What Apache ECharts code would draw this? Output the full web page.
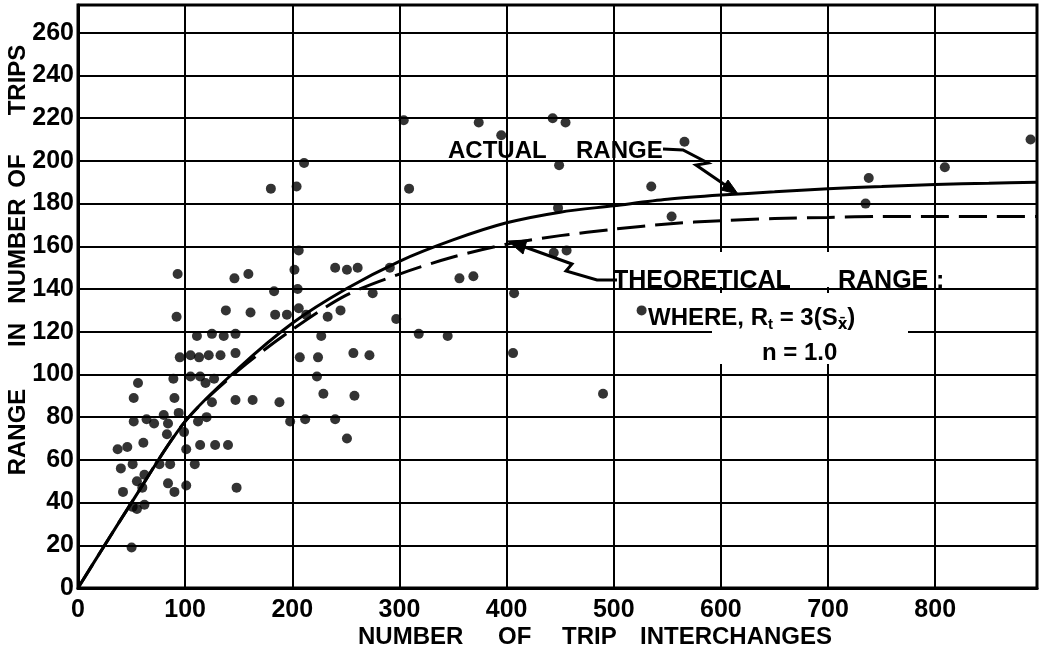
<!DOCTYPE html>
<html>
<head>
<meta charset="utf-8">
<title>Range in number of trips vs number of trip interchanges</title>
<script src="https://cdn.jsdelivr.net/npm/echarts@6/dist/echarts.min.js"></script>
<style>
html, body { margin: 0; padding: 0; background: #fff; }
#chart { width: 1040px; height: 652px; }
</style>
</head>
<body>
<div id="chart"></div>
<script>
// observed ranges: [trip interchanges, range in number of trips]
const observed = [
  [37, 65], [46, 66], [40, 56], [42, 45], [51, 58], [52, 78], [52, 89], [56, 96],
  [55, 50], [62, 53], [60, 47], [51, 38], [55, 37], [62, 39], [50, 19], [61, 68],
  [64, 79], [71, 77], [80, 81], [84, 77], [83, 72], [76, 58], [86, 58], [84, 49],
  [90, 45], [94, 82], [99, 73], [101, 65], [101, 48], [109, 58], [112, 78], [120, 80],
  [114, 67], [128, 67], [140, 67], [148, 47], [90, 89], [125, 87], [147, 88], [163, 88],
  [188, 87], [89, 98], [105, 99], [114, 99], [119, 96], [127, 98], [95, 108], [105, 109],
  [113, 108], [122, 109], [133, 109], [147, 110], [111, 118], [125, 119], [136, 118], [147, 119],
  [92, 127], [93, 147], [146, 145], [159, 147], [138, 130], [161, 129], [184, 128], [195, 128],
  [206, 131], [213, 128], [233, 127], [245, 130], [183, 139], [205, 140], [202, 149], [206, 158],
  [180, 187], [204, 188], [211, 199], [240, 150], [251, 149], [261, 150], [275, 138], [291, 150],
  [227, 118], [207, 108], [224, 108], [257, 110], [272, 109], [223, 99], [229, 91], [258, 90],
  [198, 78], [212, 79], [240, 79], [251, 70], [297, 126], [318, 119], [345, 118], [406, 110],
  [490, 91], [304, 219], [374, 218], [395, 212], [443, 220], [455, 218], [449, 198], [309, 187],
  [535, 188], [566, 209], [448, 178], [554, 174], [444, 157], [456, 158], [356, 145], [369, 146],
  [407, 138], [526, 130], [738, 192], [735, 180], [809, 197], [889, 210]
];

// actual range curve
const actualX = [0, 50, 100, 150, 200, 250, 300, 350, 400, 450, 500, 550, 600, 650, 700, 750, 800, 850, 895];
const actualY = [0, 40, 78, 103, 124, 140, 153, 163, 171, 176, 179, 182, 184, 185.5, 187, 188, 189, 189.5, 190];

// theoretical range curve (R = 3 * standard error, n = 1.0)
const theoryX = [0, 50, 100, 150, 200, 250, 300, 350, 400, 450, 500, 550, 600, 650, 700, 750, 800, 850, 895];
const theoryY = [0, 40, 78, 102, 121, 137, 147, 155, 161, 165, 168, 170.5, 172, 173, 173.5, 174, 174, 174, 174];

const xTicks = [0, 100, 200, 300, 400, 500, 600, 700, 800];
const yTicks = [0, 20, 40, 60, 80, 100, 120, 140, 160, 180, 200, 220, 240, 260];

const zip = (xs, ys) => xs.map((x, i) => [x, ys[i]]);
const FONT = '"Liberation Sans", Arial, sans-serif';

const label = (text, x, y, size) => ({
  type: 'text', x: x, y: y, z: 5,
  style: {
    text: text, fill: '#000', font: 'bold ' + size + 'px ' + FONT,
    align: 'left', verticalAlign: 'middle', textAlign: 'left', textVerticalAlign: 'middle'
  }
});

const vLabel = (text, x, y) => ({
  type: 'text', x: x, y: y, z: 5, rotation: Math.PI / 2,
  style: {
    text: text, fill: '#000', font: 'bold 24px ' + FONT,
    align: 'center', verticalAlign: 'middle', textAlign: 'center', textVerticalAlign: 'middle'
  }
});

const wire = (points) => ({
  type: 'polyline', z: 5,
  shape: { points: points },
  style: { stroke: '#000', lineWidth: 3, fill: null, lineJoin: 'miter' }
});

const head = (points) => ({
  type: 'polygon', z: 5,
  shape: { points: points },
  style: { fill: '#000', stroke: '#000', lineWidth: 1 }
});

const chart = echarts.init(document.getElementById('chart'));

chart.setOption({
  animation: false,
  backgroundColor: '#fff',
  grid: {
    left: 78, right: 3, top: 5, bottom: 64,
    show: true, borderColor: '#000', borderWidth: 3, backgroundColor: '#fff'
  },
  xAxis: {
    type: 'value', min: 0, max: 895, interval: 100,
    axisLine: { show: true, lineStyle: { color: '#000', width: 3 } },
    axisTick: { show: false },
    splitLine: { show: true, lineStyle: { color: '#000', width: 2 } },
    axisLabel: {
      color: '#000', fontFamily: FONT, fontWeight: 'bold', fontSize: 25, margin: 10,
      showMaxLabel: false,
      formatter: v => xTicks.includes(v) ? String(v) : ''
    }
  },
  yAxis: {
    type: 'value', min: 0, max: 273, interval: 20,
    axisLine: { show: true, lineStyle: { color: '#000', width: 3 } },
    axisTick: { show: false },
    splitLine: { show: true, lineStyle: { color: '#000', width: 2 } },
    axisLabel: {
      color: '#000', fontFamily: FONT, fontWeight: 'bold', fontSize: 25, margin: 4,
      showMaxLabel: false,
      formatter: v => yTicks.includes(v) ? String(v) : ''
    }
  },
  series: [
    {
      name: 'Observed',
      type: 'scatter',
      data: observed,
      symbolSize: 10,
      itemStyle: { color: '#000' },
      z: 3
    },
    {
      name: 'Actual range',
      type: 'line',
      data: zip(actualX, actualY),
      smooth: 0.3,
      showSymbol: false,
      lineStyle: { color: '#000', width: 3 },
      z: 4
    },
    {
      name: 'Theoretical range',
      type: 'line',
      data: zip(theoryX, theoryY),
      smooth: 0.3,
      showSymbol: false,
      lineStyle: { color: '#000', width: 3, type: [28, 10] },
      z: 4
    }
  ],
  graphic: [
    // gridline gaps behind the theoretical range note
    { type: 'rect', z: 1, shape: { x: 712, y: 252, width: 216, height: 35 }, style: { fill: '#fff' } },
    { type: 'rect', z: 1, shape: { x: 712, y: 293, width: 196, height: 71 }, style: { fill: '#fff' } },

    label('ACTUAL', 448, 151, 24),
    label('RANGE', 576, 151, 24),
    wire([[663, 149], [683, 150], [708, 163], [696, 165], [728, 187]]),
    head([[738, 194], [721, 190], [728, 180]]),

    label('THEORETICAL', 613, 281, 25),
    label('RANGE', 838, 281, 25),
    label(':', 936, 281, 25),
    wire([[617, 280], [597, 280], [566, 271], [572, 264], [522, 246]]),
    head([[508, 241], [527, 240], [523, 254]]),

    {
      type: 'text', x: 648, y: 318, z: 5,
      style: {
        text: 'WHERE, R{t|t} = 3(S{s|x̄})',
        fill: '#000', font: 'bold 24px ' + FONT,
        align: 'left', verticalAlign: 'middle', textAlign: 'left', textVerticalAlign: 'middle',
        rich: {
          t: { fill: '#000', font: 'bold 15px ' + FONT, verticalAlign: 'bottom', padding: [14, 0, 0, 0] },
          s: { fill: '#000', font: 'bold 15px "DejaVu Sans", sans-serif', verticalAlign: 'bottom', padding: [14, 0, 0, 0] }
        }
      }
    },
    label('n = 1.0', 762, 353, 24),

    // axis titles
    label('NUMBER', 358, 637, 24),
    label('OF', 498, 637, 24),
    label('TRIP', 562, 637, 24),
    label('INTERCHANGES', 640, 637, 24),

    vLabel('RANGE', 18, 432),
    vLabel('IN', 18, 335),
    vLabel('NUMBER', 18, 251),
    vLabel('OF', 18, 171),
    vLabel('TRIPS', 18, 80)
  ]
});
</script>
</body>
</html>
